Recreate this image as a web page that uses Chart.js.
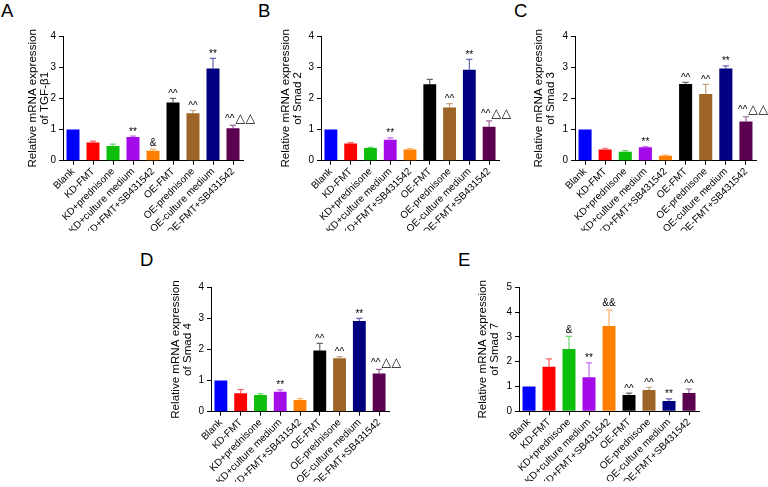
<!DOCTYPE html>
<html><head><meta charset="utf-8">
<script src="https://cdn.jsdelivr.net/npm/chart.js@4.4.1/dist/chart.umd.min.js"></script>
<style>
html,body{margin:0;padding:0;background:#fff;}
body{width:768px;height:487px;position:relative;overflow:hidden;font-family:'Liberation Sans',Arial,sans-serif;}
canvas{position:absolute;left:0;top:0;}
.lbl{position:absolute;font-size:18.5px;color:#000;line-height:1;font-family:'Liberation Sans',Arial,sans-serif;}
</style></head><body>
<div class="lbl" style="left:1px;top:2px">A</div>
<div class="lbl" style="left:258px;top:2px">B</div>
<div class="lbl" style="left:514px;top:2px">C</div>
<div class="lbl" style="left:140px;top:251px">D</div>
<div class="lbl" style="left:458px;top:251px">E</div>
<canvas id="cA" width="768" height="487"></canvas>
<canvas id="cB" width="768" height="487"></canvas>
<canvas id="cC" width="768" height="487"></canvas>
<canvas id="cD" width="768" height="487"></canvas>
<canvas id="cE" width="768" height="487"></canvas>
<script>
const categories = ['Blank','KD-FMT','KD+prednisone','KD+culture medium','KD+FMT+SB431542','OE-FMT','OE-prednisone','OE-culture medium','OE-FMT+SB431542'];
const barColors = ['#0000FF','#FF0000','#0DBE0D','#A30BE8','#FF8000','#000000','#9C6426','#000080','#5C0050'];

const tgfb1Values = [1.00, 0.58, 0.47, 0.76, 0.32, 1.87, 1.52, 2.96, 1.04];
const tgfb1Errors = [0.00, 0.05, 0.06, 0.03, 0.05, 0.13, 0.09, 0.32, 0.09];
const tgfb1Marks  = ['', '', '', '**', '&', '^^', '^^', '**', '^^△△'];

const smad2Values = [1.00, 0.55, 0.41, 0.67, 0.36, 2.45, 1.71, 2.92, 1.09];
const smad2Errors = [0.00, 0.03, 0.02, 0.06, 0.03, 0.16, 0.12, 0.33, 0.19];
const smad2Marks  = ['', '', '', '**', '', '', '^^', '**', '^^△△'];

const smad3Values = [1.00, 0.36, 0.29, 0.43, 0.16, 2.46, 2.14, 2.96, 1.26];
const smad3Errors = [0.00, 0.04, 0.03, 0.02, 0.02, 0.05, 0.31, 0.08, 0.15];
const smad3Marks  = ['', '', '', '**', '', '^^', '^^', '**', '^^△△'];

const smad4Values = [1.00, 0.59, 0.54, 0.64, 0.38, 1.97, 1.72, 2.92, 1.23];
const smad4Errors = [0.00, 0.12, 0.04, 0.06, 0.04, 0.23, 0.05, 0.08, 0.13];
const smad4Marks  = ['', '', '', '**', '', '^^', '^^', '**', '^^△△'];

const smad7Values = [1.00, 1.80, 2.51, 1.37, 3.44, 0.66, 0.86, 0.42, 0.74];
const smad7Errors = [0.00, 0.31, 0.51, 0.58, 0.65, 0.07, 0.11, 0.08, 0.16];
const smad7Marks  = ['', '', '&', '**', '&&', '^^', '^^', '**', '^^'];

const FONT = "'Liberation Sans', Arial, 'DejaVu Sans', sans-serif";

function tint(hex, a){
  const n = parseInt(hex.slice(1),16);
  return 'rgba(' + ((n>>16)&255) + ',' + ((n>>8)&255) + ',' + (n&255) + ',' + a + ')';
}

const errorBarPlugin = {
  id: 'errorBars',
  afterDatasetsDraw(chart, args, opts){
    const ctx = chart.ctx;
    const meta = chart.getDatasetMeta(0);
    const y = chart.scales.y;
    const vals = chart.data.datasets[0].data;
    meta.data.forEach((bar, i) => {
      const v = vals[i], e = opts.errors[i];
      const x = bar.x;
      const yTop = y.getPixelForValue(v);
      const yErr = y.getPixelForValue(v + e);
      ctx.save();
      if (e > 0) {
        ctx.strokeStyle = tint(barColors[i], 0.6);
        ctx.lineWidth = 1.2;
        ctx.beginPath();
        ctx.moveTo(x, yTop);
        ctx.lineTo(x, yErr);
        const cw = bar.width * 0.24;
        ctx.moveTo(x - cw, yErr);
        ctx.lineTo(x + cw, yErr);
        ctx.stroke();
      }
      const m = opts.marks[i];
      if (m) {
        ctx.fillStyle = '#000';
        ctx.font = '10px ' + FONT;
        ctx.textBaseline = 'alphabetic';
        const k = m.indexOf('△');
        if (k >= 0) {
          const head = m.slice(0, k), tail = m.slice(k);
          ctx.textAlign = 'left';
          const x0 = x - 8;
          ctx.fillText(head, x0, yErr - 3.5);
          const hw = ctx.measureText(head).width;
          ctx.font = '12.5px ' + FONT;
          let xx = x0 + hw + 1;
          for (const ch of tail) {
            ctx.fillText(ch, xx, yErr - 3.5);
            xx += ctx.measureText(ch).width + 0.5;
          }
        } else if (m.indexOf('&') >= 0) {
          ctx.textAlign = 'center';
          ctx.fillText(m, x, yErr - 3.5);
        } else {
          ctx.textAlign = 'center';
          ctx.fillText(m, x, yErr - 1.5);
        }
      }
      ctx.restore();
    });
  }
};

const panelLayouts = {
  A: {left: 63, right: 243, top: 36, bottom: 160.7, yW: 38},
  B: {left: 321, right: 499, top: 36, bottom: 160.7, yW: 43},
  C: {left: 575, right: 756, top: 36, bottom: 160.7, yW: 44},
  D: {left: 211, right: 389, top: 287.3, bottom: 411.7, yW: 43},
  E: {left: 519, right: 699, top: 287.3, bottom: 411.3, yW: 44.5}
};

function makeChart(id, layout, title, values, errors, marks, yMax){
  const W = 768, H = 487, xH = 70;
  new Chart(document.getElementById(id), {
    type: 'bar',
    data: {
      labels: categories,
      datasets: [{data: values, backgroundColor: barColors, borderWidth: 0, barPercentage: 0.65, categoryPercentage: 1}]
    },
    options: {
      responsive: false,
      animation: false,
      devicePixelRatio: 1,
      layout: {padding: {left: layout.left - layout.yW, top: layout.top, right: W - layout.right, bottom: H - layout.bottom - xH}},
      plugins: {
        legend: {display: false},
        tooltip: {enabled: false},
        errorBars: {errors: errors, marks: marks}
      },
      scales: {
        x: {
          offset: true,
          grid: {display: true, drawOnChartArea: false, drawTicks: true, tickLength: 4, color: '#000', offset: false},
          border: {color: '#000', width: 1},
          ticks: {color: '#000', font: {family: FONT, size: 10}, maxRotation: 45, minRotation: 45, padding: 1, autoSkip: false},
          afterFit(s){ s.height = xH; }
        },
        y: {
          min: 0, max: yMax,
          ticks: {stepSize: 1, color: '#000', font: {family: FONT, size: 10}, padding: 3},
          grid: {display: true, drawOnChartArea: false, drawTicks: true, tickLength: 4, color: '#000'},
          border: {color: '#000', width: 1},
          title: {display: true, text: title, color: '#000', font: {family: FONT, size: 11.6, lineHeight: 1.05}, padding: {top: 2, bottom: 0}},
          afterFit(s){ s.width = layout.yW; }
        }
      }
    },
    plugins: [errorBarPlugin]
  });
}

makeChart('cA', panelLayouts.A, ['Relative mRNA expression','of TGF-β1'], tgfb1Values, tgfb1Errors, tgfb1Marks, 4);
makeChart('cB', panelLayouts.B, ['Relative mRNA expression','of Smad 2'], smad2Values, smad2Errors, smad2Marks, 4);
makeChart('cC', panelLayouts.C, ['Relative mRNA expression','of Smad 3'], smad3Values, smad3Errors, smad3Marks, 4);
makeChart('cD', panelLayouts.D, ['Relative mRNA expression','of Smad 4'], smad4Values, smad4Errors, smad4Marks, 4);
makeChart('cE', panelLayouts.E, ['Relative mRNA expression','of Smad 7'], smad7Values, smad7Errors, smad7Marks, 5);
</script>
</body></html>
